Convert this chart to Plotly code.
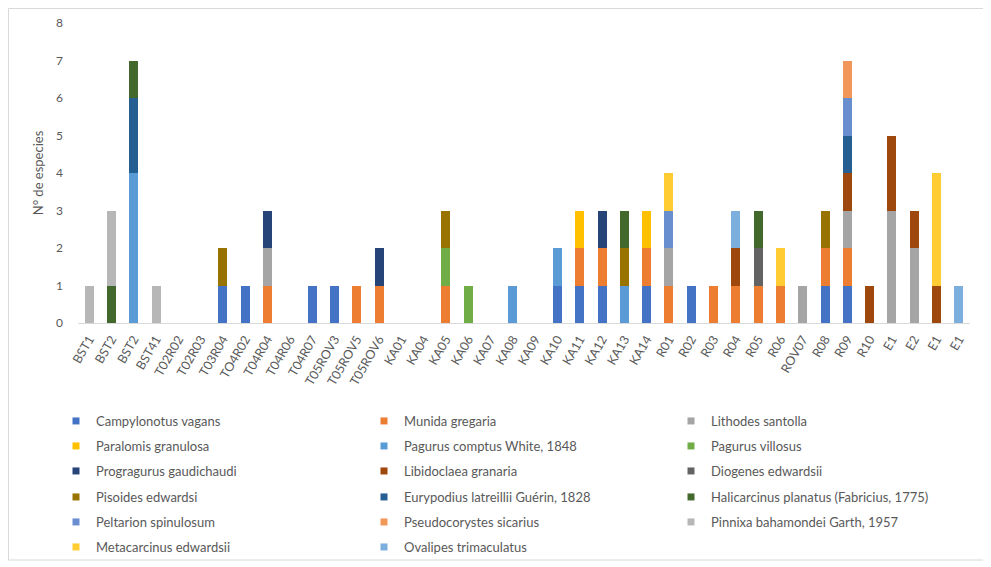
import plotly.graph_objects as go

stations = ["BST1", "BST2", "BST2", "BST41", "T02R02", "T02R03", "T03R04", "TO4R02", "T04R04", "T04R06",
            "T04R07", "T05ROV3", "T05ROV5", "T05ROV6", "KA01", "KA04", "KA05", "KA06", "KA07", "KA08",
            "KA09", "KA10", "KA11", "KA12", "KA13", "KA14", "R01", "R02", "R03", "R04",
            "R05", "R06", "ROV07", "R08", "R09", "R10", "E1", "E2", "E1", "E1"]

#                      BST1..T04R06                  T04R07..KA08                  KA09..R04                     R05..E1
campylonotus_vagans  = [0,0,0,0,0,0,1,1,0,0,  1,1,0,0,0,0,0,0,0,0,  0,1,1,1,0,1,0,1,0,0,  0,0,0,1,1,0,0,0,0,0]
munida_gregaria      = [0,0,0,0,0,0,0,0,1,0,  0,0,1,1,0,0,1,0,0,0,  0,0,1,1,0,1,1,0,1,1,  1,1,0,1,1,0,0,0,0,0]
lithodes_santolla    = [0,0,0,0,0,0,0,0,1,0,  0,0,0,0,0,0,0,0,0,0,  0,0,0,0,0,0,1,0,0,0,  0,0,1,0,1,0,3,2,0,0]
paralomis_granulosa  = [0,0,0,0,0,0,0,0,0,0,  0,0,0,0,0,0,0,0,0,0,  0,0,1,0,0,1,0,0,0,0,  0,0,0,0,0,0,0,0,0,0]
pagurus_comptus      = [0,0,4,0,0,0,0,0,0,0,  0,0,0,0,0,0,0,0,0,1,  0,1,0,0,1,0,0,0,0,0,  0,0,0,0,0,0,0,0,0,0]
pagurus_villosus     = [0,0,0,0,0,0,0,0,0,0,  0,0,0,0,0,0,1,1,0,0,  0,0,0,0,0,0,0,0,0,0,  0,0,0,0,0,0,0,0,0,0]
progragurus          = [0,0,0,0,0,0,0,0,1,0,  0,0,0,1,0,0,0,0,0,0,  0,0,0,1,0,0,0,0,0,0,  0,0,0,0,0,0,0,0,0,0]
libidoclaea_granaria = [0,0,0,0,0,0,0,0,0,0,  0,0,0,0,0,0,0,0,0,0,  0,0,0,0,0,0,0,0,0,1,  0,0,0,0,1,1,2,1,1,0]
diogenes_edwardsii   = [0,0,0,0,0,0,0,0,0,0,  0,0,0,0,0,0,0,0,0,0,  0,0,0,0,0,0,0,0,0,0,  1,0,0,0,0,0,0,0,0,0]
pisoides_edwardsi    = [0,0,0,0,0,0,1,0,0,0,  0,0,0,0,0,0,1,0,0,0,  0,0,0,0,1,0,0,0,0,0,  0,0,0,1,0,0,0,0,0,0]
eurypodius_latreilli = [0,0,2,0,0,0,0,0,0,0,  0,0,0,0,0,0,0,0,0,0,  0,0,0,0,0,0,0,0,0,0,  0,0,0,0,1,0,0,0,0,0]
halicarcinus         = [0,1,1,0,0,0,0,0,0,0,  0,0,0,0,0,0,0,0,0,0,  0,0,0,0,1,0,0,0,0,0,  1,0,0,0,0,0,0,0,0,0]
peltarion            = [0,0,0,0,0,0,0,0,0,0,  0,0,0,0,0,0,0,0,0,0,  0,0,0,0,0,0,1,0,0,0,  0,0,0,0,1,0,0,0,0,0]
pseudocorystes       = [0,0,0,0,0,0,0,0,0,0,  0,0,0,0,0,0,0,0,0,0,  0,0,0,0,0,0,0,0,0,0,  0,0,0,0,1,0,0,0,0,0]
pinnixa              = [1,2,0,1,0,0,0,0,0,0,  0,0,0,0,0,0,0,0,0,0,  0,0,0,0,0,0,0,0,0,0,  0,0,0,0,0,0,0,0,0,0]
metacarcinus         = [0,0,0,0,0,0,0,0,0,0,  0,0,0,0,0,0,0,0,0,0,  0,0,0,0,0,0,1,0,0,0,  0,1,0,0,0,0,0,0,3,0]
ovalipes             = [0,0,0,0,0,0,0,0,0,0,  0,0,0,0,0,0,0,0,0,0,  0,0,0,0,0,0,0,0,0,1,  0,0,0,0,0,0,0,0,0,1]

species_names = ["Campylonotus vagans", "Munida gregaria", "Lithodes santolla",
                 "Paralomis granulosa", "Pagurus comptus White, 1848", "Pagurus villosus",
                 "Progragurus gaudichaudi", "Libidoclaea granaria", "Diogenes edwardsii",
                 "Pisoides edwardsi", "Eurypodius latreillii Guérin, 1828", "Halicarcinus planatus (Fabricius, 1775)",
                 "Peltarion spinulosum", "Pseudocorystes sicarius", "Pinnixa bahamondei Garth, 1957",
                 "Metacarcinus edwardsii", "Ovalipes trimaculatus"]
species_values = [campylonotus_vagans, munida_gregaria, lithodes_santolla, paralomis_granulosa,
                  pagurus_comptus, pagurus_villosus, progragurus, libidoclaea_granaria,
                  diogenes_edwardsii, pisoides_edwardsi, eurypodius_latreilli, halicarcinus,
                  peltarion, pseudocorystes, pinnixa, metacarcinus, ovalipes]
colors = ["#4472C4", "#ED7D31", "#A5A5A5", "#FFC000", "#5B9BD5", "#70AD47",
          "#264478", "#9E480E", "#636363", "#997300", "#255E91", "#43682B",
          "#698ED0", "#F1975A", "#B7B7B7", "#FFCD33", "#7CAFDD"]

# figure sits at (8, 8) in the page because of the default body margin
W, H = 983, 559
PL, PR, PT, PB = 70, 962, 15, 315  # plot area pixels within the figure

fig = go.Figure()
xs = list(range(len(stations)))
for name, vals, col in zip(species_names, species_values, colors):
    fig.add_trace(go.Bar(x=xs, y=vals, name=name, marker=dict(color=col, line=dict(width=0)),
                         showlegend=False))

# legend entries: 6 rows x 3 columns, one legend box per entry
row_y = [413, 438, 463, 489, 514, 539]
col_x = [48, 356, 663]
legend_layouts = {}
for i, (name, col) in enumerate(zip(species_names, colors)):
    r, c = divmod(i, 3)
    lg = "legend" if i == 0 else f"legend{i+1}"
    fig.add_trace(go.Scatter(x=[None], y=[None], mode="markers", name=name,
                             marker=dict(symbol="square", size=7, color=col),
                             legend=lg, showlegend=True))
    legend_layouts[lg] = dict(
        orientation="h", xref="container", yref="container",
        x=col_x[c] / W, y=1 - row_y[r] / H, xanchor="left", yanchor="middle",
        itemclick=False, itemdoubleclick=False,
        font=dict(family="Lato, sans-serif", size=13, color="#595959"),
        bgcolor="rgba(0,0,0,0)", borderwidth=0,
    )

fig.update_layout(
    width=W, height=H, barmode="stack", bargap=0.6,
    margin=dict(l=PL, r=W - PR, t=PT, b=H - PB, autoexpand=False),
    paper_bgcolor="white", plot_bgcolor="white",
    font=dict(family="Lato, sans-serif", color="#595959"),
    **legend_layouts,
)
fig.update_xaxes(
    range=[-0.5, len(stations) - 0.5], tickmode="array", tickvals=xs, ticktext=stations,
    tickangle=-60, tickfont=dict(size=12.5, color="#595959"), showgrid=False,
    showline=True, linecolor="#D9D9D9", linewidth=1, ticks="", zeroline=False,
    ticklabelstandoff=3,
)
fig.update_yaxes(
    range=[0, 8], dtick=1, showgrid=False, showline=False, zeroline=False, ticks="",
    tickfont=dict(size=12, color="#595959"), ticklabelstandoff=14,
    title=dict(text="N° de especies", font=dict(size=13, color="#595959"), standoff=9),
)
# chart-area border
pw, ph = PR - PL, PB - PT
fig.add_shape(type="rect", xref="paper", yref="paper",
              x0=(0.5 - PL) / pw, x1=(977 - PL) / pw, y0=(PB - 552) / ph, y1=(PB - 0.5) / ph,
              line=dict(color="#D9D9D9", width=1), fillcolor="rgba(0,0,0,0)", layer="below")

fig.write_html("out.html")
